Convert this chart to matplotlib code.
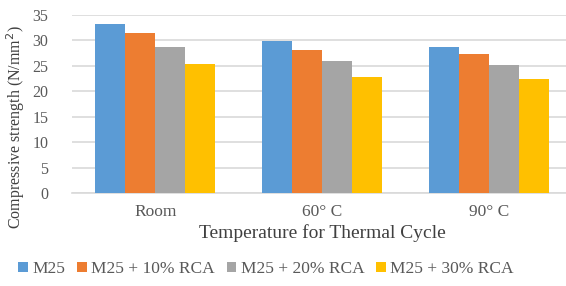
import matplotlib.pyplot as plt
import numpy as np

categories = ['Room', '60° C', '90° C']
series_names = ['M25', 'M25 + 10% RCA', 'M25 + 20% RCA', 'M25 + 30% RCA']
m25 = [33.2, 29.9, 28.8]
m25_10 = [31.4, 28.2, 27.3]
m25_20 = [28.8, 25.9, 25.1]
m25_30 = [25.3, 22.9, 22.5]
colors = ['#5B9BD5', '#ED7D31', '#A5A5A5', '#FFC000']

plt.rcParams['font.family'] = ['Liberation Serif', 'DejaVu Serif']

fig = plt.figure(figsize=(5.66, 2.86), dpi=100)
ax = fig.add_axes([72 / 566, 1 - 193 / 286, 500 / 566, 178 / 286])

x = np.arange(len(categories))
w = 0.18
for i, (vals, name) in enumerate(zip([m25, m25_10, m25_20, m25_30], series_names)):
    ax.bar(x + (i - 1.5) * w, vals, w, color=colors[i], label=name, zorder=3)

ax.set_xlim(-0.5, 2.5)
ax.set_ylim(0, 35)
ax.set_yticks(range(0, 36, 5))
ax.set_xticks(x)
ax.set_xticklabels(categories)
ax.yaxis.grid(True, color='#D9D9D9', linewidth=1.2, zorder=0)
for s in ['top', 'right', 'left']:
    ax.spines[s].set_visible(False)
ax.spines['bottom'].set_color('#D9D9D9')
ax.spines['bottom'].set_linewidth(1.2)
ax.tick_params(axis='both', length=0, colors='#595959')
ax.tick_params(axis='y', pad=17, labelsize=11.5)
ax.tick_params(axis='x', pad=8, labelsize=12.5)
ax.set_xlabel('Temperature for Thermal Cycle', fontsize=14, color='#404040', labelpad=3)
ax.set_ylabel('Compressive strength (N/mm$^2$)', fontsize=11.5, color='#404040')
ax.yaxis.set_label_coords(-(72 - 27) / 500, (193 - 127) / 178)

fig.legend(loc='center', bbox_to_anchor=(266 / 566, 1 - 269 / 286), ncol=4, frameon=False,
           fontsize=12.5, handlelength=0.55, handleheight=0.55, handletextpad=0.25,
           columnspacing=0.7, labelcolor='#595959')

plt.savefig('out.png', dpi=100)
